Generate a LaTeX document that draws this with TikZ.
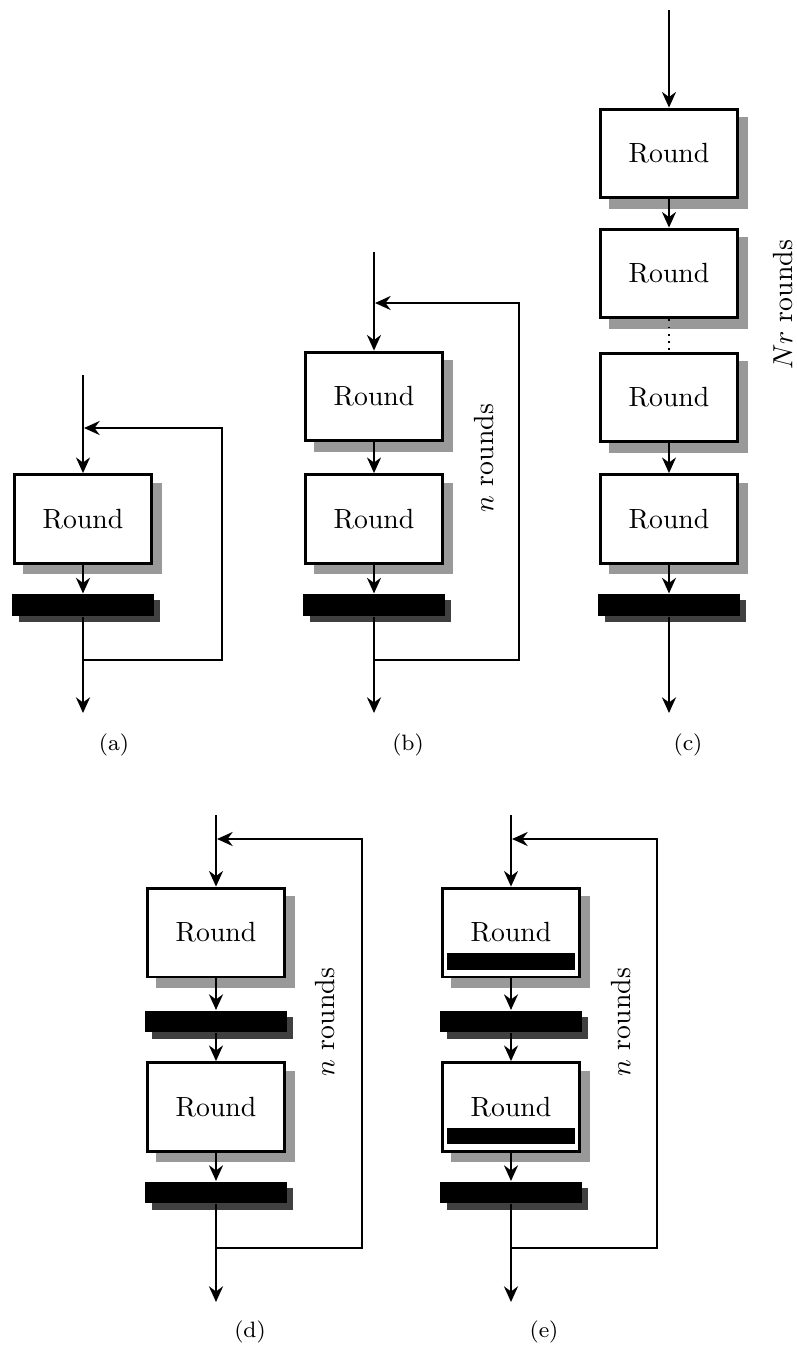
\documentclass[tikz,border=0pt]{standalone}
\usetikzlibrary{shadows,arrows.meta}
\begin{document}
\begin{tikzpicture}[x=0.36pt,y=-0.36pt,
  >={Stealth[length=5.6pt,width=5pt,inset=1.8pt]},
  flow/.style={line width=1.05pt},
  roundbox/.style={draw, line width=1.05pt, fill=white, inner sep=0pt,
    minimum width=49.3pt, minimum height=32pt,
    drop shadow={shadow xshift=3.4pt, shadow yshift=-3.4pt,
      fill=black!40, draw=black!40, opacity=1}},
  bar/.style={fill=black, inner sep=0pt,
    minimum width=50.8pt, minimum height=7.9pt,
    drop shadow={shadow xshift=2.2pt, shadow yshift=-2.2pt,
      fill=black!75, opacity=1}},
  innerbar/.style={fill=black, inner sep=0pt,
    minimum width=46.1pt, minimum height=6.1pt},
  caption/.style={font=\footnotesize},
  looplabel/.style={rotate=90}]
\useasboundingbox (0,0) rectangle (797,1349);

% ---------- (a) one round with a feedback loop ----------
\coordinate (a-in) at (83,375);
\coordinate (a-fb) at (84,428);
\coordinate (a-ne) at (222,428);
\coordinate (a-lp) at (83,660);
\coordinate (a-out) at (83,713);
\node[roundbox] (a-r1) at (83,519) {Round};
\node[bar] (a-b) at (83,605) {};
\draw[flow,->] (a-in) -- (a-r1);
\draw[flow,->] (a-r1) -- (a-b);
\draw[flow,->] (a-b) -- (a-out);
\draw[flow,->] (a-lp) -| (a-ne) -- (a-fb);
\node[caption] (a-cap) at (114,745) {(a)};

% ---------- (b) two rounds per loop ----------
\coordinate (b-in) at (374,252);
\coordinate (b-fb) at (375,303);
\coordinate (b-ne) at (519,303);
\coordinate (b-lp) at (374,660);
\coordinate (b-out) at (374,713);
\node[roundbox] (b-r1) at (374,396.5) {Round};
\node[roundbox] (b-r2) at (374,519) {Round};
\node[bar] (b-b) at (374,605) {};
\draw[flow,->] (b-in) -- (b-r1);
\draw[flow,->] (b-r1) -- (b-r2);
\draw[flow,->] (b-r2) -- (b-b);
\draw[flow,->] (b-b) -- (b-out);
\draw[flow,->] (b-lp) -| (b-ne) -- (b-fb);
\node[looplabel] (b-lbl) at (484,458) {$n$ rounds};
\node[caption] (b-cap) at (408,745) {(b)};

% ---------- (c) fully unrolled ----------
\coordinate (c-in) at (669,10);
\coordinate (c-out) at (669,713);
\node[roundbox] (c-r1) at (669,153.5) {Round};
\node[roundbox] (c-r2) at (669,273.5) {Round};
\node[roundbox] (c-r3) at (669,397.5) {Round};
\node[roundbox] (c-r4) at (669,519) {Round};
\node[bar] (c-b) at (669,605) {};
\draw[flow,->] (c-in) -- (c-r1);
\draw[flow,->] (c-r1) -- (c-r2);
\draw[line width=0.6pt, dotted] (c-r2) -- (c-r3);
\draw[flow,->] (c-r3) -- (c-r4);
\draw[flow,->] (c-r4) -- (c-b);
\draw[flow,->] (c-b) -- (c-out);
\node[looplabel] (c-lbl) at (783,305) {$Nr$ rounds};
\node[caption] (c-cap) at (688,745) {(c)};

% ---------- (d) bar after every round ----------
\coordinate (d-in) at (216,815);
\coordinate (d-fb) at (217,839);
\coordinate (d-ne) at (362,839);
\coordinate (d-lp) at (216,1248);
\coordinate (d-out) at (216,1302);
\node[roundbox] (d-r1) at (216,932.5) {Round};
\node[bar] (d-b1) at (216,1021.5) {};
\node[roundbox] (d-r2) at (216,1107) {Round};
\node[bar] (d-b2) at (216,1192.5) {};
\draw[flow,->] (d-in) -- (d-r1);
\draw[flow,->] (d-r1) -- (d-b1);
\draw[flow,->] (d-b1) -- (d-r2);
\draw[flow,->] (d-r2) -- (d-b2);
\draw[flow,->] (d-b2) -- (d-out);
\draw[flow,->] (d-lp) -| (d-ne) -- (d-fb);
\node[looplabel] (d-lbl) at (325,1022) {$n$ rounds};
\node[caption] (d-cap) at (250,1332) {(d)};

% ---------- (e) bar inside and after every round ----------
\coordinate (e-in) at (511,815);
\coordinate (e-fb) at (512,839);
\coordinate (e-ne) at (657,839);
\coordinate (e-lp) at (511,1248);
\coordinate (e-out) at (511,1302);
\node[roundbox] (e-r1) at (511,932.5) {Round};
\node[innerbar] (e-i1) at (511,961.5) {};
\node[bar] (e-b1) at (511,1021.5) {};
\node[roundbox] (e-r2) at (511,1107) {Round};
\node[innerbar] (e-i2) at (511,1136) {};
\node[bar] (e-b2) at (511,1192.5) {};
\draw[flow,->] (e-in) -- (e-r1);
\draw[flow,->] (e-r1) -- (e-b1);
\draw[flow,->] (e-b1) -- (e-r2);
\draw[flow,->] (e-r2) -- (e-b2);
\draw[flow,->] (e-b2) -- (e-out);
\draw[flow,->] (e-lp) -| (e-ne) -- (e-fb);
\node[looplabel] (e-lbl) at (621,1022) {$n$ rounds};
\node[caption] (e-cap) at (544,1332) {(e)};
\end{tikzpicture}
\end{document}
